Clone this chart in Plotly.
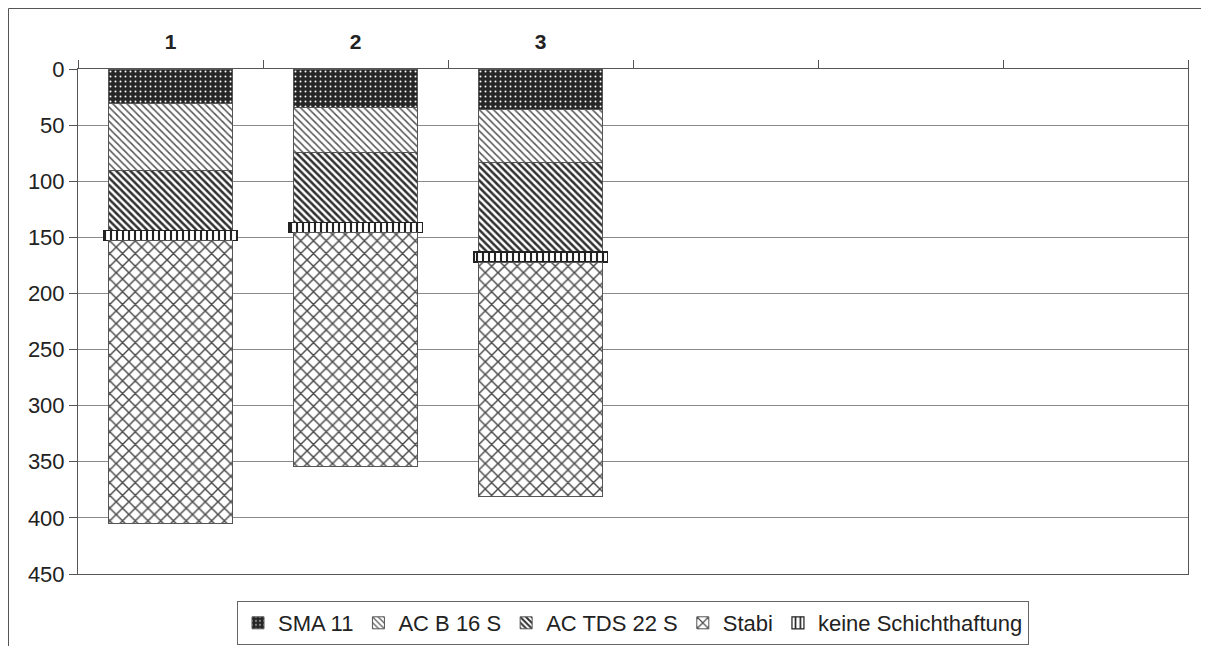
import plotly.graph_objects as go

categories = ["1", "2", "3", "4", "5", "6"]
tick_labels = ["1", "2", "3", "", "", ""]
bar_cats = ["1", "2", "3"]

sma_11 = [31, 34, 36]
ac_b_16_s = [59, 40, 47]
ac_tds_22_s = [54, 63, 80]
keine_schichthaftung = [9, 9, 9]
stabi = [252, 208, 209]

y_ticks = [0, 50, 100, 150, 200, 250, 300, 350, 400, 450]

FONT = "Liberation Sans, Arial, sans-serif"

fig = go.Figure()

def add(name, vals, shape, fg, bg, size, solidity, width=0.67, lw=1, lc="#555"):
    fig.add_trace(go.Bar(
        name=name, x=bar_cats, y=vals, width=width,
        marker=dict(
            color=bg,
            line=dict(color=lc, width=lw),
            pattern=dict(shape=shape, fgcolor=fg, bgcolor=bg, size=size,
                         solidity=solidity, fillmode="replace"),
        ),
    ))

add("SMA 11", sma_11, ".", "#ffffff", "#262626", 5, 0.12)
add("AC B 16 S", ac_b_16_s, "\\", "#555555", "#ffffff", 5, 0.3)
add("AC TDS 22 S", ac_tds_22_s, "\\", "#303030", "#ffffff", 5, 0.5)
add("keine Schichthaftung", keine_schichthaftung, "|", "#222222", "#ffffff", 6, 0.35,
    width=0.72, lw=1.2, lc="#222")
add("Stabi", stabi, "x", "#4a4a4a", "#ffffff", 9, 0.3)

W, H = 1201, 638
L, R, T, B = 70, 21, 61, 72
PW, PH = W - L - R, H - T - B

fig.update_layout(
    barmode="stack",
    width=W, height=H,
    margin=dict(l=L, r=R, t=T, b=B, autoexpand=False),
    paper_bgcolor="white", plot_bgcolor="white",
    font=dict(family=FONT, size=22, color="#222"),
    showlegend=True,
    legend=dict(
        orientation="h", x=0.5, xanchor="center", y=-27 / PH, yanchor="top",
        bordercolor="#666", borderwidth=1, bgcolor="white",
        font=dict(family=FONT, size=22, color="#222"),
        traceorder="normal",
        itemwidth=30,
    ),
)

fig.update_xaxes(
    type="category", categoryorder="array", categoryarray=categories,
    tickmode="array", tickvals=categories, ticktext=tick_labels,
    range=[-0.5, 5.5],
    side="top", tickson="boundaries", ticks="outside", ticklen=8,
    tickcolor="#555", showline=True, linecolor="#555", linewidth=1,
    mirror=True, showgrid=False, ticklabelstandoff=11,
    tickfont=dict(family=FONT, size=21, color="#222", weight="bold"),
)
fig.update_yaxes(
    range=[450, 0], tickmode="array", tickvals=y_ticks,
    ticks="outside", ticklen=8, tickcolor="#555",
    showline=True, linecolor="#555", linewidth=1, mirror=True,
    showgrid=True, gridcolor="#8a8a8a", gridwidth=1, zeroline=False,
    tickfont=dict(family=FONT, size=22, color="#222"),
)

# outer chart frame: top and left edges
fig.add_shape(type="line", xref="paper", yref="paper",
              x0=(-L + 0.5) / PW, x1=(W - L) / PW,
              y0=1 + (T - 0.5) / PH, y1=1 + (T - 0.5) / PH,
              line=dict(color="#555", width=1), layer="below")
fig.add_shape(type="line", xref="paper", yref="paper",
              x0=(-L + 0.5) / PW, x1=(-L + 0.5) / PW,
              y0=-B / PH, y1=1 + (T - 0.5) / PH,
              line=dict(color="#555", width=1), layer="below")

order = ["SMA 11", "AC B 16 S", "AC TDS 22 S", "Stabi", "keine Schichthaftung"]
for tr in fig.data:
    tr.legendrank = order.index(tr.name) + 1

fig.write_html("out.html")
